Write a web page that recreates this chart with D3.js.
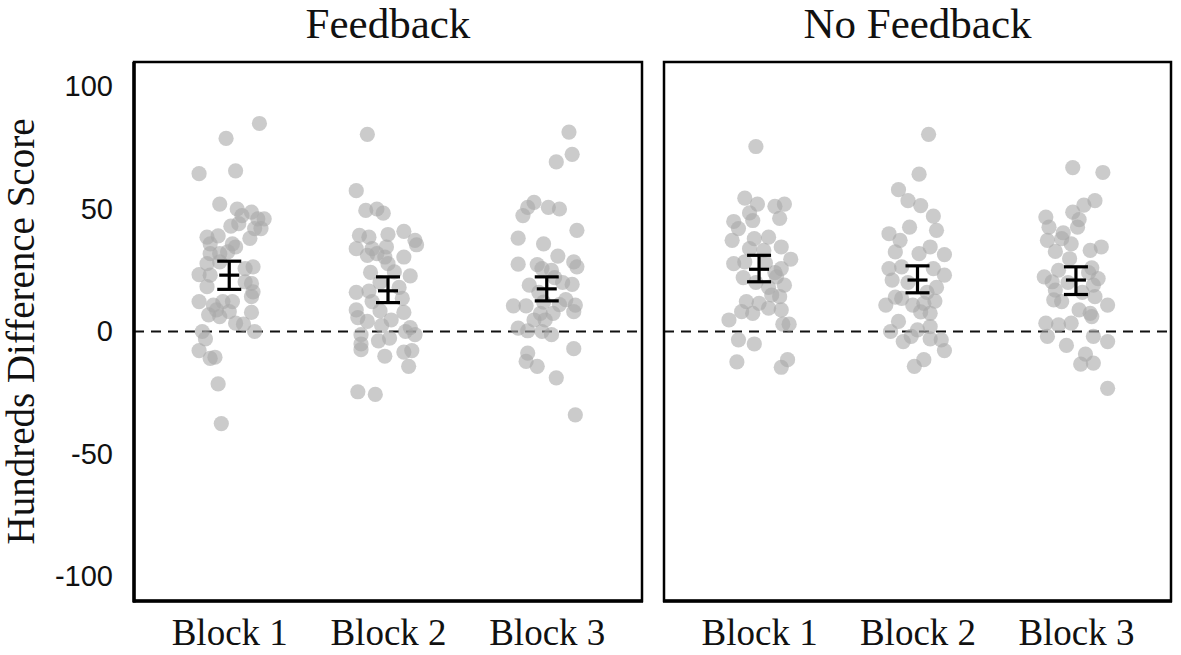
<!DOCTYPE html>
<html>
<head>
<meta charset="utf-8">
<script src="https://cdn.jsdelivr.net/npm/d3@7"></script>
<style>
  html, body { margin: 0; padding: 0; background: #fff; }
  svg { display: block; }
</style>
</head>
<body>
<svg id="chart" width="1181" height="655"></svg>
<script>
// ---------------- DATA ----------------
const panels = ["Feedback", "No Feedback"];
const blocks = ["Block 1", "Block 2", "Block 3"];
const yTicks = [100, 50, 0, -50, -100];
const yTickLabels = ["100", "50", "0", "-50", "-100"];
const yLabel = "Hundreds Difference Score";

// each point: [horizontal jitter (fraction of category step), score]
const fbBlock1 = [[0.19,84.9],[-0.02,78.8],[-0.19,64.4],[0.04,65.6],[-0.06,52],[0.05,50],[0.14,48.7],[0.08,47.3],[0.18,46],[0.22,46],[0.01,43],[0.06,44],[0.16,42],[0.20,42],[-0.14,38.5],[-0.07,39],[0.13,38],[-0.12,35.8],[0.02,35.8],[0.04,34.5],[-0.12,31.8],[-0.06,31.8],[-0.01,32.5],[-0.14,27.7],[-0.06,28.4],[-0.19,23.2],[-0.12,23],[0.15,26.4],[0.10,25.7],[-0.14,18.3],[0.10,20.3],[0.14,19.6],[0.15,16.2],[0.14,14.2],[-0.19,12.2],[-0.10,10.8],[-0.04,12.2],[0.02,12.2],[-0.08,8.8],[-0.13,6.8],[-0.06,6.1],[0.00,8.1],[0.14,7.8],[0.04,3.4],[0.09,3],[0.16,0],[-0.17,0],[-0.15,-3],[-0.19,-7.8],[-0.12,-11],[-0.09,-10.5],[-0.07,-21.4],[-0.05,-37.6]];
const fbBlock2 = [[-0.13,80.5],[-0.20,57.5],[-0.14,49.4],[-0.07,50],[-0.03,48.3],[-0.18,39.2],[-0.12,38.5],[0.00,39.6],[0.10,40.9],[0.17,37.2],[0.18,35.4],[-0.20,33.8],[-0.10,33.8],[-0.07,31.8],[-0.01,34.5],[-0.13,31.1],[-0.02,30.4],[0.00,27.7],[0.10,30.4],[-0.11,24.1],[0.04,24.3],[0.14,22.7],[-0.20,16],[-0.12,16.5],[-0.10,12.2],[0.09,13.5],[-0.20,8.8],[-0.05,8.4],[0.10,7.8],[-0.19,5.7],[-0.13,4.1],[0.02,4.7],[-0.04,2.4],[0.14,1.6],[0.17,-1.3],[0.11,0],[-0.17,-1.3],[-0.17,-5.1],[-0.17,-7.4],[-0.06,-3.8],[0.01,-2.7],[-0.02,-10.1],[0.10,-8.4],[0.15,-7.8],[0.13,-14.2],[-0.19,-24.6],[-0.08,-25.7],[0.07,18],[-0.05,20]];
const fbBlock3 = [[0.14,81.4],[0.16,72.3],[0.06,69.2],[-0.08,52.7],[-0.12,50.7],[-0.15,47.3],[0.01,50.7],[0.08,50],[0.19,41.3],[-0.18,38.1],[-0.02,35.8],[0.07,30.8],[-0.18,27.5],[-0.06,27.3],[-0.03,25.7],[0.17,28.4],[0.19,26.4],[0.03,25],[-0.11,18.9],[0.16,19.2],[-0.21,10.5],[-0.13,10.5],[0.18,10.8],[0.17,8.1],[-0.04,7.4],[0.04,7.4],[-0.08,4.7],[-0.01,4.7],[-0.18,1.4],[-0.12,0.3],[-0.03,0],[0.03,-1.3],[-0.12,-8.8],[-0.13,-12.2],[-0.06,-14.2],[0.17,-7],[0.06,-18.9],[0.18,-34],[0.05,22],[0.10,20],[-0.05,16],[0.12,13],[0.08,11],[-0.02,12]];
const nfBlock1 = [[-0.02,75.5],[-0.09,54.4],[-0.01,52],[0.10,51.1],[0.16,52],[-0.06,48.4],[0.13,46.2],[-0.16,44.9],[-0.04,45.3],[-0.13,42],[-0.17,37.2],[-0.03,37.9],[0.06,38.5],[0.14,34.5],[-0.06,33.8],[0.03,33.1],[-0.16,27.7],[-0.09,28.4],[0.20,29.5],[0.14,25.7],[0.11,22.3],[0.16,18.9],[-0.08,12.2],[0.00,11.5],[0.08,14.9],[0.13,14.2],[-0.11,8.1],[-0.04,7.4],[0.06,9.5],[0.14,8.8],[-0.19,4.7],[0.15,3],[0.19,3],[-0.13,-3.4],[-0.03,-5.1],[-0.14,-12.4],[0.14,-14.6],[0.18,-11.5],[0.04,28],[-0.02,20],[0.06,18],[-0.10,22],[0.10,24]];
const nfBlock2 = [[0.07,80.5],[0.01,64.2],[-0.12,57.9],[-0.06,53.4],[0.02,51.4],[0.10,47.1],[-0.05,42.6],[0.12,41.3],[-0.18,39.9],[-0.11,37.2],[-0.14,32.5],[0.08,34.5],[0.01,31.8],[0.17,31.4],[-0.18,25.7],[-0.10,26.4],[-0.16,21],[0.10,25.7],[0.17,23],[-0.20,10.8],[-0.10,13.5],[-0.03,10.8],[0.04,11.5],[0.11,12.4],[0.08,7.4],[-0.12,4.1],[-0.17,0],[0.00,0.7],[0.08,2],[-0.09,-4.1],[0.08,-3],[0.15,-3.4],[0.17,-7.8],[0.04,-11.5],[-0.02,-14.2],[-0.14,14],[0.06,16],[0.12,18],[-0.06,20],[0.02,8],[-0.04,-2]];
const nfBlock3 = [[-0.02,66.9],[0.17,64.9],[0.12,53.4],[0.05,51.6],[-0.02,48.7],[-0.19,46.7],[0.02,45.7],[-0.17,42.6],[0.01,42.6],[-0.08,40.3],[-0.18,37.2],[-0.09,37.9],[-0.03,35.8],[-0.13,32.7],[0.09,33.1],[0.16,34.5],[-0.04,29.7],[-0.11,25],[-0.20,22.3],[-0.15,20.3],[0.14,21.6],[0.11,18.9],[-0.13,16.9],[0.12,14.2],[-0.14,12.9],[-0.09,12.2],[0.20,10.8],[0.02,8.8],[0.09,7.4],[0.10,6.1],[-0.19,3.4],[-0.11,2.7],[-0.03,3.4],[-0.18,-2],[0.11,-2],[0.20,-4.1],[-0.06,-5.7],[0.06,-9.2],[0.03,-13.3],[0.11,-12.9],[0.20,-23.2],[0.08,24],[0.04,16],[0.10,26],[-0.05,20]];

// mean and error bar limits [mean, low, high]
const fbStats = [[23, 17.2, 28.7], [16.6, 11.8, 22.3], [17.4, 12.5, 22.3]];
const nfStats = [[25.4, 20.3, 31.1], [21, 15.8, 26.8], [21, 15.1, 26.4]];

const panelPoints = [[fbBlock1, fbBlock2, fbBlock3], [nfBlock1, nfBlock2, nfBlock3]];
const panelStats = [fbStats, nfStats];

// ---------------- LAYOUT ----------------
const svg = d3.select("#chart");
const plotTop = 62, plotBottom = 601;
const panelX = [[134, 642], [664, 1171]];

const y = d3.scaleLinear().domain([-110, 110]).range([plotBottom, plotTop]);

const serif = "'Liberation Serif', 'Times New Roman', serif";
const sans = "'Liberation Sans', Arial, sans-serif";

// y axis (left panel only)
const yAxis = d3.axisLeft(y).tickValues(yTicks).tickSize(0).tickPadding(21)
  .tickFormat((d, i) => yTickLabels[i]);
const yg = svg.append("g").attr("transform", `translate(${panelX[0][0]},0)`).call(yAxis);
yg.select(".domain").remove();
yg.selectAll("text").attr("font-family", sans).attr("font-size", 29).attr("fill", "#111");

svg.append("text")
  .attr("transform", `translate(34,${y(0)}) rotate(-90)`)
  .attr("text-anchor", "middle")
  .attr("font-family", serif).attr("font-size", 39).attr("fill", "#111")
  .text(yLabel);

panels.forEach((name, pi) => {
  const [x0, x1] = panelX[pi];
  const x = d3.scalePoint().domain(blocks).range([x0, x1]).padding(0.6);
  const step = x.step();
  const g = svg.append("g");

  // title
  g.append("text")
    .attr("x", (x0 + x1) / 2).attr("y", 38)
    .attr("text-anchor", "middle")
    .attr("font-family", serif).attr("font-size", 43).attr("fill", "#111")
    .text(name);

  // zero line
  g.append("line")
    .attr("x1", x0).attr("x2", x1).attr("y1", y(0)).attr("y2", y(0))
    .attr("stroke", "#111").attr("stroke-width", 2).attr("stroke-dasharray", "10,7");

  // points
  blocks.forEach((b, bi) => {
    g.append("g").selectAll("circle")
      .data(panelPoints[pi][bi])
      .join("circle")
      .attr("cx", d => x(b) + d[0] * step)
      .attr("cy", d => y(d[1]))
      .attr("r", 7.6)
      .attr("fill", "#a9a9a9")
      .attr("fill-opacity", 0.6);
  });

  // error bars
  const stats = panelStats[pi];
  blocks.forEach((b, bi) => {
    const [m, lo, hi] = stats[bi];
    const cx = x(b);
    const eg = g.append("g").attr("stroke", "#000").attr("stroke-width", 3.2);
    eg.append("line").attr("x1", cx).attr("x2", cx).attr("y1", y(lo)).attr("y2", y(hi));
    eg.append("line").attr("x1", cx - 12).attr("x2", cx + 12).attr("y1", y(lo)).attr("y2", y(lo));
    eg.append("line").attr("x1", cx - 12).attr("x2", cx + 12).attr("y1", y(hi)).attr("y2", y(hi));
    eg.append("line").attr("x1", cx - 10).attr("x2", cx + 10).attr("y1", y(m)).attr("y2", y(m));
  });

  // frame
  g.append("rect")
    .attr("x", x0).attr("y", plotTop).attr("width", x1 - x0).attr("height", plotBottom - plotTop)
    .attr("fill", "none").attr("stroke", "#000").attr("stroke-width", 2.5);
  if (pi === 0) {
    g.append("line").attr("x1", x0).attr("x2", x0).attr("y1", plotTop).attr("y2", plotBottom + 1.5)
      .attr("stroke", "#000").attr("stroke-width", 3.5);
  }
  g.append("line").attr("x1", x0 - 1).attr("x2", x1 + 1).attr("y1", plotBottom).attr("y2", plotBottom)
    .attr("stroke", "#000").attr("stroke-width", 3.5);

  // category labels
  const xAxis = d3.axisBottom(x).tickSize(0).tickPadding(0);
  const xg = g.append("g").attr("transform", `translate(0,${plotBottom})`).call(xAxis);
  xg.select(".domain").remove();
  xg.selectAll("text")
    .attr("font-family", serif).attr("font-size", 37).attr("fill", "#111")
    .attr("dy", null).attr("y", 44);
});
</script>
</body>
</html>
